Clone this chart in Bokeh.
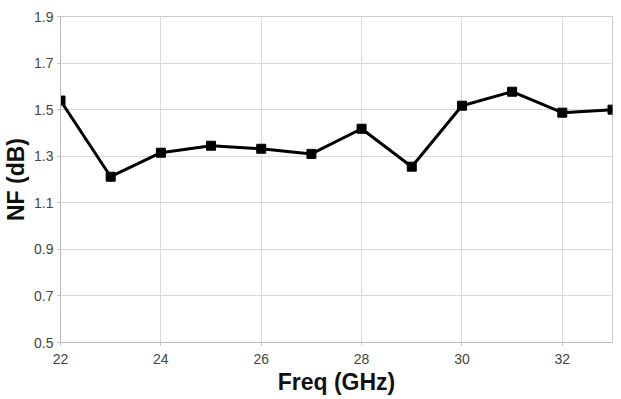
from bokeh.plotting import figure
from bokeh.models import Range1d, FixedTicker, CustomJSTickFormatter
from bokeh.embed import file_html
from bokeh.resources import INLINE

freq = [22, 23, 24, 25, 26, 27, 28, 29, 30, 31, 32, 33]
nf = [1.539, 1.212, 1.315, 1.345, 1.332, 1.31, 1.418, 1.255, 1.517, 1.577, 1.487, 1.50]
x_ticks = [22, 24, 26, 28, 30, 32]
y_ticks = [0.5, 0.7, 0.9, 1.1, 1.3, 1.5, 1.7, 1.9]

p = figure(width=613, height=397, output_backend="svg", toolbar_location=None,
           x_range=Range1d(22, 33), y_range=Range1d(0.5, 1.9),
           min_border_left=50, min_border_right=1, min_border_top=16, min_border_bottom=0)
p.outline_line_color = "#cccccc"
p.outline_line_width = 1

p.xaxis.ticker = FixedTicker(ticks=x_ticks)
p.yaxis.ticker = FixedTicker(ticks=y_ticks)
p.yaxis.formatter = CustomJSTickFormatter(code="return tick.toFixed(1);")

for ax in (p.xaxis, p.yaxis):
    ax.axis_line_color = "#bbbbbb"
    ax.major_tick_line_color = "#bbbbbb"
    ax.major_tick_out = 3
    ax.major_tick_in = 0
    ax.minor_tick_line_color = None
    ax.major_label_text_font = "Liberation Sans"
    ax.major_label_text_font_size = "14px"
    ax.major_label_text_color = "#45453f"
    ax.axis_label_text_font = "Liberation Sans"
    ax.axis_label_text_font_size = "23px"
    ax.axis_label_text_font_style = "bold"
    ax.axis_label_text_color = "#111111"

p.xaxis.axis_label = "Freq (GHz)"
p.yaxis.axis_label = "NF (dB)"
p.xaxis.major_label_standoff = 8
p.xaxis.axis_label_standoff = 2
p.yaxis.major_label_standoff = 4
p.yaxis.axis_label_standoff = 2

p.xgrid.ticker = FixedTicker(ticks=x_ticks)
p.ygrid.ticker = FixedTicker(ticks=y_ticks)
p.grid.grid_line_color = "#d9d9d9"
p.grid.grid_line_width = 1

p.line(freq, nf, line_color="black", line_width=3)
p.scatter(freq, nf, marker="square", size=9, fill_color="black", line_color="black")

open("out.html", "w").write(file_html(p, INLINE))
